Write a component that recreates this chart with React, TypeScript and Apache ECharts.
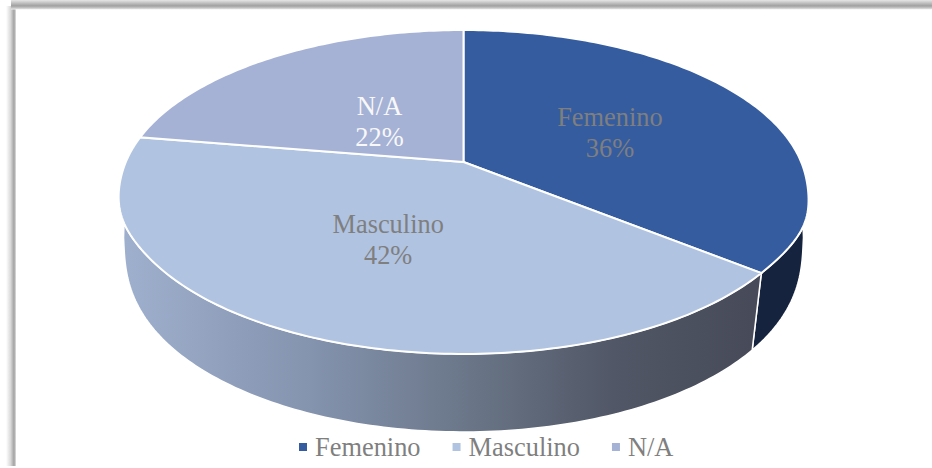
import React, { useEffect, useRef } from "react";
import * as echarts from "echarts";

const categories = ["Femenino", "Masculino", "N/A"];
const shares = [35.8, 41.8, 22.4];
const topColors = ["#355C9F", "#B0C3E1", "#A5B2D5"];
const labelColors = ["#7F7F7F", "#7F7F7F", "#F8F8F8"];
const labelNudge = [[0, 3], [0, 0], [18, 15]];

const FONT = '"Liberation Serif", serif';
const W = 932;
const H = 468;
const APEX_X = 463.5;
const APEX_Y = 162;
const K = 0.1852;
const A = 337.6;
const B = 156.4;
const BASE_SCALE_X = 0.97;
const BASE_SCALE_Y = 1.012;
const BASE_OFFSET_Y = 237.7;

const total = shares.reduce((s, v) => s + v, 0);

function project(deg: number, r = 1): [number, number] {
  const t = (deg * Math.PI) / 180;
  const u = Math.sin(t) * r;
  const v = -Math.cos(t) * r;
  const d = 1 - K * v;
  return [(A * u) / d, (B * v) / d];
}
// The lower flanks of the reference's rim bulge slightly beyond a true ellipse.
const rimBulge = (deg: number) =>
  1 +
  0.012 * Math.exp(-(((deg - 113) / 11) ** 2)) +
  0.007 * Math.exp(-(((deg - 250) / 11) ** 2));
const rim = (deg: number): number[] => {
  const [x, y] = project(deg);
  return [APEX_X + x * rimBulge(deg), APEX_Y + y];
};
// The base follows a narrower ellipse, widening towards the sides of the wall.
const baseScale = (deg: number) => {
  const dt = Math.min(Math.abs(deg - 90), Math.abs(deg - 270));
  return BASE_SCALE_X + 0.037 * Math.exp(-dt / 10);
};
const base = (deg: number): number[] => {
  const [x, y] = project(deg);
  return [APEX_X + x * baseScale(deg), BASE_OFFSET_Y + y * BASE_SCALE_Y];
};
function arc(from: number, to: number, fn: (d: number) => number[]) {
  const pts: number[][] = [];
  const n = Math.max(2, Math.ceil(to - from));
  for (let i = 0; i <= n; i++) pts.push(fn(from + ((to - from) * i) / n));
  return pts;
}

function wallFill(i: number): any {
  if (i === 0) return "#15233F";
  return {
    type: "linear",
    x: 122,
    y: 0,
    x2: 752,
    y2: 0,
    global: true,
    colorStops: [
      { offset: 0, color: "#9FB0CE" },
      { offset: 0.3, color: "#8493AE" },
      { offset: 0.55, color: "#6A7688" },
      { offset: 0.78, color: "#515766" },
      { offset: 1, color: "#474B59" },
    ],
  };
}

function sliceRenderer(index: number) {
  return (_params: any, _api: any) => {
    const before = shares.slice(0, index).reduce((s, v) => s + v, 0);
    const start = (before / total) * 360;
    const end = ((before + shares[index]) / total) * 360;
    const mid = (start + end) / 2;
    const children: any[] = [];
    const ws = Math.max(start, 90);
    const we = Math.min(end, 270);
    if (we > ws) {
      children.push({
        type: "polygon",
        shape: { points: [...arc(ws, we, rim), ...arc(ws, we, base).reverse()] },
        style: { fill: wallFill(index), stroke: "#FFFFFF", lineWidth: 1.5 },
      });
    }
    children.push({
      type: "polygon",
      shape: { points: [[APEX_X, APEX_Y], ...arc(start, end, rim)] },
      style: { fill: topColors[index], stroke: "#FFFFFF", lineWidth: 2 },
    });
    const [lx, ly] = project(mid, 0.5);
    children.push({
      type: "text",
      x: APEX_X + lx + labelNudge[index][0],
      y: APEX_Y + ly + labelNudge[index][1],
      style: {
        text: `${categories[index]}\n${Math.round((shares[index] / total) * 100)}%`,
        fill: labelColors[index],
        font: `26.4px ${FONT}`,
        lineHeight: 31,
        align: "center",
        verticalAlign: "middle",
      },
    });
    return { type: "group", children };
  };
}

const topBandStops = [
  { offset: 0, color: "#E6E6E6" },
  { offset: 0.35, color: "#BDBDBD" },
  { offset: 0.62, color: "#A0A0A0" },
  { offset: 0.85, color: "#C8C8C8" },
  { offset: 1, color: "#F0F0F0" },
];
const leftBandStops = [
  { offset: 0, color: "#FFFFFF" },
  { offset: 0.45, color: "#DADADA" },
  { offset: 0.8, color: "#A2A2A2" },
  { offset: 0.93, color: "#C4C4C4" },
  { offset: 1, color: "#F0F0F0" },
];

export default function App() {
  const ref = useRef<HTMLDivElement>(null);
  useEffect(() => {
    const chart = echarts.init(ref.current!, undefined, { renderer: "svg" });
    chart.setOption({
      animation: false,
      backgroundColor: "#FFFFFF",
      legend: {
        left: 294,
        top: 429,
        icon: "rect",
        itemWidth: 8,
        itemHeight: 8,
        itemGap: 32,
        selectedMode: false,
        data: categories,
        textStyle: {
          fontFamily: FONT,
          fontSize: 26.4,
          color: "#7F7F7F",
          padding: [0, 0, 4, 3],
        },
      },
      graphic: [
        {
          type: "rect",
          z: -1,
          shape: { x: 6, y: 6, width: 10, height: H - 8 },
          style: {
            fill: { type: "linear", x: 0, y: 0, x2: 1, y2: 0, colorStops: leftBandStops },
          },
        },
        {
          type: "rect",
          z: -1,
          shape: { x: 11, y: 0, width: W - 11, height: 9.5 },
          style: {
            fill: { type: "linear", x: 0, y: 0, x2: 0, y2: 1, colorStops: topBandStops },
          },
        },
      ],
      series: categories.map((name, i) => ({
        type: "custom",
        name,
        coordinateSystem: "none",
        silent: true,
        itemStyle: { color: topColors[i] },
        data: [shares[i]],
        renderItem: sliceRenderer(i),
      })),
    });
    return () => chart.dispose();
  }, []);
  return (
    <div
      ref={ref}
      style={{ position: "absolute", left: 0, top: 0, width: W, height: H }}
    />
  );
}
